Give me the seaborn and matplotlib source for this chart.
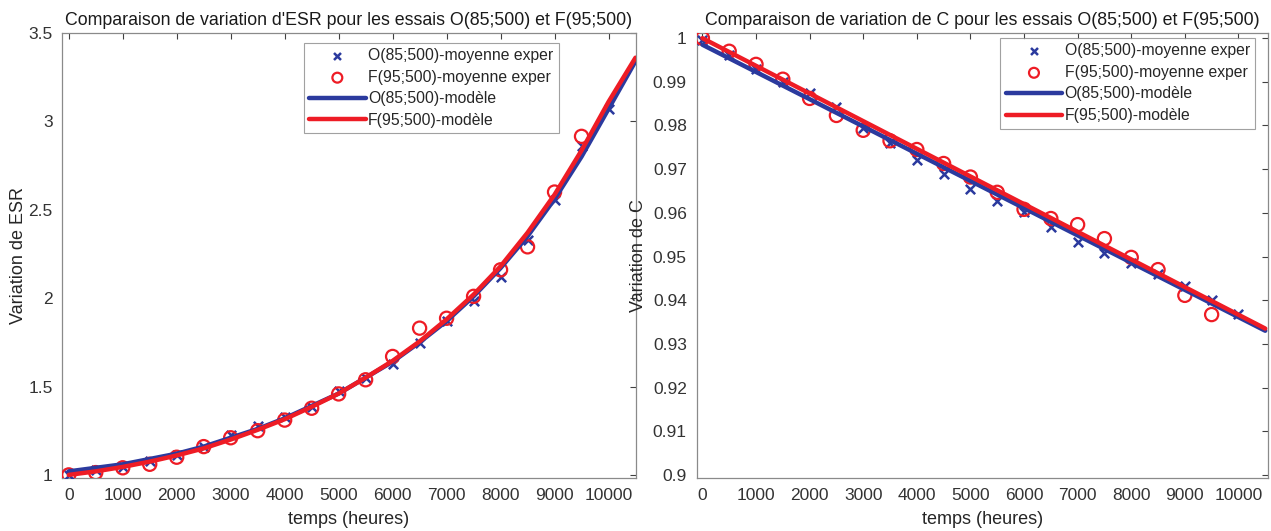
import numpy as np
import matplotlib
matplotlib.use("Agg")
import matplotlib.pyplot as plt
import seaborn as sns

# temps des mesures (heures)
t_mes = [0, 500, 1000, 1500, 2000, 2500, 3000, 3500, 4000, 4500, 5000,
         5500, 6000, 6500, 7000, 7500, 8000, 8500, 9000, 9500, 10000]
t_mod = [0, 500, 1000, 1500, 2000, 2500, 3000, 3500, 4000, 4500, 5000,
         5500, 6000, 6500, 7000, 7500, 8000, 8500, 9000, 9500, 10000, 10500]

# ESR - moyennes experimentales
esr_O = [1.00, 1.03, 1.045, 1.08, 1.11, 1.16, 1.227, 1.278, 1.325, 1.386, 1.473,
         1.55, 1.625, 1.744, 1.87, 1.983, 2.12, 2.33, 2.557, 2.86, 3.07]
esr_F = [1.00, 1.013, 1.04, 1.06, 1.10, 1.16, 1.21, 1.25, 1.31, 1.377, 1.458,
         1.538, 1.67, 1.83, 1.886, 2.01, 2.16, 2.29, 2.60, 2.915]
# ESR - modeles
esr_O_mod = [1.02, 1.04, 1.06, 1.09, 1.12, 1.16, 1.21, 1.26, 1.32, 1.39, 1.46,
             1.55, 1.64, 1.75, 1.87, 2.01, 2.17, 2.35, 2.56, 2.80, 3.07, 3.34]
esr_F_mod = [1.00, 1.02, 1.045, 1.075, 1.11, 1.15, 1.20, 1.255, 1.315, 1.385, 1.46,
             1.55, 1.645, 1.755, 1.88, 2.02, 2.18, 2.37, 2.585, 2.835, 3.11, 3.36]

# C - moyennes experimentales
c_O = [0.9995, 0.9961, 0.9929, 0.9899, 0.9874, 0.9842, 0.9795, 0.9761, 0.9722, 0.9690, 0.9655,
       0.9626, 0.9603, 0.9567, 0.9534, 0.9509, 0.9484, 0.9460, 0.9433, 0.9400, 0.9369]
c_F = [1.0, 0.9970, 0.9940, 0.9906, 0.9862, 0.9823, 0.9789, 0.9765, 0.9745, 0.9713, 0.9682,
       0.9647, 0.9608, 0.9587, 0.9573, 0.9541, 0.9498, 0.9470, 0.9411, 0.9367]
# C - modeles (droites)
t_lin = [0, 10500]
c_O_mod = [0.9985, 0.9330]
c_F_mod = [1.0000, 0.9335]

bleu = '#2B3A9E'
rouge = '#EE1C25'

sns.set_theme(style='white')
plt.rcParams['font.family'] = ['Liberation Sans', 'DejaVu Sans']

fig = plt.figure(figsize=(12.71, 5.31), dpi=100)
ax1 = fig.add_axes([0.049, 0.100, 0.451, 0.838])
ax2 = fig.add_axes([0.548, 0.100, 0.450, 0.838])


def tracer(ax, t_o, y_o, t_f, y_f, tm_o, ym_o, tm_f, ym_f, ancre):
    sns.scatterplot(x=t_o, y=y_o, ax=ax, marker='x', color=bleu, s=45,
                    linewidth=1.8, label='O(85;500)-moyenne exper', zorder=3)
    sns.scatterplot(x=t_f, y=y_f, ax=ax, marker='o', facecolor='none',
                    edgecolor=rouge, s=90, linewidth=1.6,
                    label='F(95;500)-moyenne exper', zorder=3)
    sns.lineplot(x=tm_o, y=ym_o, ax=ax, color=bleu, linewidth=3.2,
                 label='O(85;500)-modèle', zorder=4)
    sns.lineplot(x=tm_f, y=ym_f, ax=ax, color=rouge, linewidth=3.2,
                 label='F(95;500)-modèle', zorder=5)
    ax.set_xticks(range(0, 10001, 1000))
    ax.set_xlabel('temps (heures)', fontsize=13, color='#262626', labelpad=6)
    ax.tick_params(direction='in', length=4, width=0.8, top=True, right=True,
                   labelsize=12.5, colors='#404040', labelcolor='#333333', pad=7)
    for sp in ax.spines.values():
        sp.set_color('#8a8a8a')
        sp.set_linewidth(0.9)
    leg = ax.legend(loc='upper right', bbox_to_anchor=ancre, fontsize=11.3,
                    handlelength=3.6, markerscale=0.75,
                    frameon=True, fancybox=False, edgecolor='#8a8a8a',
                    borderaxespad=0, labelspacing=0.42, handletextpad=0.15,
                    borderpad=0.35)
    leg.get_frame().set_linewidth(0.8)


tracer(ax1, t_mes, esr_O, t_mes[:20], esr_F, t_mod, esr_O_mod, t_mod, esr_F_mod,
       (0.866, 0.978))
ax1.set_xlim(-120, 10500)
ax1.set_ylim(0.983, 3.5)
ax1.set_yticks([1, 1.5, 2, 2.5, 3, 3.5])
ax1.set_yticklabels(['1', '1.5', '2', '2.5', '3', '3.5'])
ax1.set_ylabel('Variation de ESR', fontsize=13, color='#262626', labelpad=1)
ax1.set_title("Comparaison de variation d'ESR pour les essais O(85;500) et F(95;500)",
              fontsize=12.8, color='#1a1a1a', pad=6)

tracer(ax2, t_mes, c_O, t_mes[:20], c_F, t_lin, c_O_mod, t_lin, c_F_mod,
       (0.977, 0.989))
ax2.set_xlim(-110, 10560)
ax2.set_ylim(0.8993, 1.0012)
yt = [0.9, 0.91, 0.92, 0.93, 0.94, 0.95, 0.96, 0.97, 0.98, 0.99, 1.0]
ax2.set_yticks(yt)
ax2.set_yticklabels(['0.9', '0.91', '0.92', '0.93', '0.94', '0.95', '0.96',
                     '0.97', '0.98', '0.99', '1'])
ax2.set_ylabel('Variation de C', fontsize=13, color='#262626', labelpad=4)
ax2.set_title('Comparaison de variation de C pour les essais O(85;500) et F(95;500)',
              fontsize=12.8, color='#1a1a1a', pad=6)

fig.savefig('out.png', dpi=100)
